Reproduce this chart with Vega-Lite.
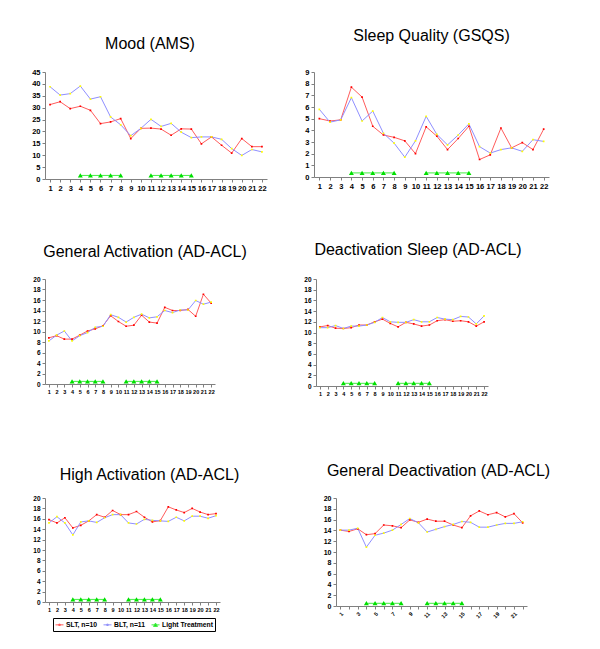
{
  "$schema": "https://vega.github.io/schema/vega-lite/v6.json",
  "padding": {"left": 31, "top": 28, "right": 0, "bottom": 0},
  "background": "white",
  "datasets": {
    "d": [
      {"p":"Mood","d":1,"s":"SLT, n=10","v":31.3},{"p":"Mood","d":2,"s":"SLT, n=10","v":32.5},{"p":"Mood","d":3,"s":"SLT, n=10","v":29.6},{"p":"Mood","d":4,"s":"SLT, n=10","v":30.6},{"p":"Mood","d":5,"s":"SLT, n=10","v":28.9},{"p":"Mood","d":6,"s":"SLT, n=10","v":23.3},{"p":"Mood","d":7,"s":"SLT, n=10","v":24.0},{"p":"Mood","d":8,"s":"SLT, n=10","v":25.4},{"p":"Mood","d":9,"s":"SLT, n=10","v":17.0},{"p":"Mood","d":10,"s":"SLT, n=10","v":21.3},{"p":"Mood","d":11,"s":"SLT, n=10","v":21.4},{"p":"Mood","d":12,"s":"SLT, n=10","v":21.0},{"p":"Mood","d":13,"s":"SLT, n=10","v":18.4},{"p":"Mood","d":14,"s":"SLT, n=10","v":21.1},{"p":"Mood","d":15,"s":"SLT, n=10","v":21.0},{"p":"Mood","d":16,"s":"SLT, n=10","v":14.8},{"p":"Mood","d":17,"s":"SLT, n=10","v":17.7},{"p":"Mood","d":18,"s":"SLT, n=10","v":14.2},{"p":"Mood","d":19,"s":"SLT, n=10","v":10.9},{"p":"Mood","d":20,"s":"SLT, n=10","v":17.0},{"p":"Mood","d":21,"s":"SLT, n=10","v":13.6},{"p":"Mood","d":22,"s":"SLT, n=10","v":13.6},
      {"p":"Mood","d":1,"s":"BLT, n=11","v":38.8},{"p":"Mood","d":2,"s":"BLT, n=11","v":35.3},{"p":"Mood","d":3,"s":"BLT, n=11","v":35.9},{"p":"Mood","d":4,"s":"BLT, n=11","v":39.1},{"p":"Mood","d":5,"s":"BLT, n=11","v":33.6},{"p":"Mood","d":6,"s":"BLT, n=11","v":34.6},{"p":"Mood","d":7,"s":"BLT, n=11","v":26.1},{"p":"Mood","d":8,"s":"BLT, n=11","v":22.8},{"p":"Mood","d":9,"s":"BLT, n=11","v":18.2},{"p":"Mood","d":10,"s":"BLT, n=11","v":21.3},{"p":"Mood","d":11,"s":"BLT, n=11","v":25.1},{"p":"Mood","d":12,"s":"BLT, n=11","v":22.1},{"p":"Mood","d":13,"s":"BLT, n=11","v":23.4},{"p":"Mood","d":14,"s":"BLT, n=11","v":19.7},{"p":"Mood","d":15,"s":"BLT, n=11","v":17.4},{"p":"Mood","d":16,"s":"BLT, n=11","v":17.7},{"p":"Mood","d":17,"s":"BLT, n=11","v":17.7},{"p":"Mood","d":18,"s":"BLT, n=11","v":16.7},{"p":"Mood","d":19,"s":"BLT, n=11","v":12.8},{"p":"Mood","d":20,"s":"BLT, n=11","v":9.9},{"p":"Mood","d":21,"s":"BLT, n=11","v":12.4},{"p":"Mood","d":22,"s":"BLT, n=11","v":11.4},
      {"p":"Mood","d":4,"s":"Light Treatment","v":1.5,"g":1},{"p":"Mood","d":5,"s":"Light Treatment","v":1.5,"g":1},{"p":"Mood","d":6,"s":"Light Treatment","v":1.5,"g":1},{"p":"Mood","d":7,"s":"Light Treatment","v":1.5,"g":1},{"p":"Mood","d":8,"s":"Light Treatment","v":1.5,"g":1},{"p":"Mood","d":11,"s":"Light Treatment","v":1.5,"g":2},{"p":"Mood","d":12,"s":"Light Treatment","v":1.5,"g":2},{"p":"Mood","d":13,"s":"Light Treatment","v":1.5,"g":2},{"p":"Mood","d":14,"s":"Light Treatment","v":1.5,"g":2},{"p":"Mood","d":15,"s":"Light Treatment","v":1.5,"g":2},

      {"p":"Sleep","d":1,"s":"SLT, n=10","v":5.0},{"p":"Sleep","d":2,"s":"SLT, n=10","v":4.8},{"p":"Sleep","d":3,"s":"SLT, n=10","v":4.9},{"p":"Sleep","d":4,"s":"SLT, n=10","v":7.7},{"p":"Sleep","d":5,"s":"SLT, n=10","v":6.85},{"p":"Sleep","d":6,"s":"SLT, n=10","v":4.35},{"p":"Sleep","d":7,"s":"SLT, n=10","v":3.6},{"p":"Sleep","d":8,"s":"SLT, n=10","v":3.4},{"p":"Sleep","d":9,"s":"SLT, n=10","v":3.1},{"p":"Sleep","d":10,"s":"SLT, n=10","v":2.0},{"p":"Sleep","d":11,"s":"SLT, n=10","v":4.3},{"p":"Sleep","d":12,"s":"SLT, n=10","v":3.5},{"p":"Sleep","d":13,"s":"SLT, n=10","v":2.35},{"p":"Sleep","d":14,"s":"SLT, n=10","v":3.3},{"p":"Sleep","d":15,"s":"SLT, n=10","v":4.35},{"p":"Sleep","d":16,"s":"SLT, n=10","v":1.5},{"p":"Sleep","d":17,"s":"SLT, n=10","v":1.9},{"p":"Sleep","d":18,"s":"SLT, n=10","v":4.2},{"p":"Sleep","d":19,"s":"SLT, n=10","v":2.5},{"p":"Sleep","d":20,"s":"SLT, n=10","v":2.95},{"p":"Sleep","d":21,"s":"SLT, n=10","v":2.35},{"p":"Sleep","d":22,"s":"SLT, n=10","v":4.1},
      {"p":"Sleep","d":1,"s":"BLT, n=11","v":5.8},{"p":"Sleep","d":2,"s":"BLT, n=11","v":4.7},{"p":"Sleep","d":3,"s":"BLT, n=11","v":4.9},{"p":"Sleep","d":4,"s":"BLT, n=11","v":6.8},{"p":"Sleep","d":5,"s":"BLT, n=11","v":4.8},{"p":"Sleep","d":6,"s":"BLT, n=11","v":5.65},{"p":"Sleep","d":7,"s":"BLT, n=11","v":3.75},{"p":"Sleep","d":8,"s":"BLT, n=11","v":2.9},{"p":"Sleep","d":9,"s":"BLT, n=11","v":1.7},{"p":"Sleep","d":10,"s":"BLT, n=11","v":3.1},{"p":"Sleep","d":11,"s":"BLT, n=11","v":5.2},{"p":"Sleep","d":12,"s":"BLT, n=11","v":3.65},{"p":"Sleep","d":13,"s":"BLT, n=11","v":2.75},{"p":"Sleep","d":14,"s":"BLT, n=11","v":3.6},{"p":"Sleep","d":15,"s":"BLT, n=11","v":4.55},{"p":"Sleep","d":16,"s":"BLT, n=11","v":2.6},{"p":"Sleep","d":17,"s":"BLT, n=11","v":2.05},{"p":"Sleep","d":18,"s":"BLT, n=11","v":2.35},{"p":"Sleep","d":19,"s":"BLT, n=11","v":2.5},{"p":"Sleep","d":20,"s":"BLT, n=11","v":2.2},{"p":"Sleep","d":21,"s":"BLT, n=11","v":3.2},{"p":"Sleep","d":22,"s":"BLT, n=11","v":3.05},
      {"p":"Sleep","d":4,"s":"Light Treatment","v":0.35,"g":1},{"p":"Sleep","d":5,"s":"Light Treatment","v":0.35,"g":1},{"p":"Sleep","d":6,"s":"Light Treatment","v":0.35,"g":1},{"p":"Sleep","d":7,"s":"Light Treatment","v":0.35,"g":1},{"p":"Sleep","d":8,"s":"Light Treatment","v":0.35,"g":1},{"p":"Sleep","d":11,"s":"Light Treatment","v":0.35,"g":2},{"p":"Sleep","d":12,"s":"Light Treatment","v":0.35,"g":2},{"p":"Sleep","d":13,"s":"Light Treatment","v":0.35,"g":2},{"p":"Sleep","d":14,"s":"Light Treatment","v":0.35,"g":2},{"p":"Sleep","d":15,"s":"Light Treatment","v":0.35,"g":2},

      {"p":"GA","d":1,"s":"SLT, n=10","v":8.8},{"p":"GA","d":2,"s":"SLT, n=10","v":9.2},{"p":"GA","d":3,"s":"SLT, n=10","v":8.55},{"p":"GA","d":4,"s":"SLT, n=10","v":8.55},{"p":"GA","d":5,"s":"SLT, n=10","v":9.3},{"p":"GA","d":6,"s":"SLT, n=10","v":10.1},{"p":"GA","d":7,"s":"SLT, n=10","v":10.5},{"p":"GA","d":8,"s":"SLT, n=10","v":11.1},{"p":"GA","d":9,"s":"SLT, n=10","v":13.0},{"p":"GA","d":10,"s":"SLT, n=10","v":11.9},{"p":"GA","d":11,"s":"SLT, n=10","v":11.0},{"p":"GA","d":12,"s":"SLT, n=10","v":11.2},{"p":"GA","d":13,"s":"SLT, n=10","v":13.1},{"p":"GA","d":14,"s":"SLT, n=10","v":11.8},{"p":"GA","d":15,"s":"SLT, n=10","v":11.6},{"p":"GA","d":16,"s":"SLT, n=10","v":14.6},{"p":"GA","d":17,"s":"SLT, n=10","v":14.0},{"p":"GA","d":18,"s":"SLT, n=10","v":14.0},{"p":"GA","d":19,"s":"SLT, n=10","v":14.2},{"p":"GA","d":20,"s":"SLT, n=10","v":12.9},{"p":"GA","d":21,"s":"SLT, n=10","v":17.1},{"p":"GA","d":22,"s":"SLT, n=10","v":15.4},
      {"p":"GA","d":1,"s":"BLT, n=11","v":8.2},{"p":"GA","d":2,"s":"BLT, n=11","v":9.3},{"p":"GA","d":3,"s":"BLT, n=11","v":10.1},{"p":"GA","d":4,"s":"BLT, n=11","v":8.2},{"p":"GA","d":5,"s":"BLT, n=11","v":9.2},{"p":"GA","d":6,"s":"BLT, n=11","v":9.8},{"p":"GA","d":7,"s":"BLT, n=11","v":10.8},{"p":"GA","d":8,"s":"BLT, n=11","v":11.0},{"p":"GA","d":9,"s":"BLT, n=11","v":13.2},{"p":"GA","d":10,"s":"BLT, n=11","v":12.7},{"p":"GA","d":11,"s":"BLT, n=11","v":11.8},{"p":"GA","d":12,"s":"BLT, n=11","v":12.7},{"p":"GA","d":13,"s":"BLT, n=11","v":13.3},{"p":"GA","d":14,"s":"BLT, n=11","v":12.6},{"p":"GA","d":15,"s":"BLT, n=11","v":12.8},{"p":"GA","d":16,"s":"BLT, n=11","v":14.0},{"p":"GA","d":17,"s":"BLT, n=11","v":13.6},{"p":"GA","d":18,"s":"BLT, n=11","v":14.1},{"p":"GA","d":19,"s":"BLT, n=11","v":14.1},{"p":"GA","d":20,"s":"BLT, n=11","v":15.9},{"p":"GA","d":21,"s":"BLT, n=11","v":15.2},{"p":"GA","d":22,"s":"BLT, n=11","v":15.6},
      {"p":"GA","d":4,"s":"Light Treatment","v":0.5,"g":1},{"p":"GA","d":5,"s":"Light Treatment","v":0.5,"g":1},{"p":"GA","d":6,"s":"Light Treatment","v":0.5,"g":1},{"p":"GA","d":7,"s":"Light Treatment","v":0.5,"g":1},{"p":"GA","d":8,"s":"Light Treatment","v":0.5,"g":1},{"p":"GA","d":11,"s":"Light Treatment","v":0.5,"g":2},{"p":"GA","d":12,"s":"Light Treatment","v":0.5,"g":2},{"p":"GA","d":13,"s":"Light Treatment","v":0.5,"g":2},{"p":"GA","d":14,"s":"Light Treatment","v":0.5,"g":2},{"p":"GA","d":15,"s":"Light Treatment","v":0.5,"g":2},

      {"p":"DS","d":1,"s":"SLT, n=10","v":11.05},{"p":"DS","d":2,"s":"SLT, n=10","v":11.3},{"p":"DS","d":3,"s":"SLT, n=10","v":10.8},{"p":"DS","d":4,"s":"SLT, n=10","v":10.75},{"p":"DS","d":5,"s":"SLT, n=10","v":10.9},{"p":"DS","d":6,"s":"SLT, n=10","v":11.4},{"p":"DS","d":7,"s":"SLT, n=10","v":11.4},{"p":"DS","d":8,"s":"SLT, n=10","v":12.0},{"p":"DS","d":9,"s":"SLT, n=10","v":12.5},{"p":"DS","d":10,"s":"SLT, n=10","v":11.7},{"p":"DS","d":11,"s":"SLT, n=10","v":11.05},{"p":"DS","d":12,"s":"SLT, n=10","v":11.9},{"p":"DS","d":13,"s":"SLT, n=10","v":11.6},{"p":"DS","d":14,"s":"SLT, n=10","v":11.2},{"p":"DS","d":15,"s":"SLT, n=10","v":11.4},{"p":"DS","d":16,"s":"SLT, n=10","v":12.2},{"p":"DS","d":17,"s":"SLT, n=10","v":12.4},{"p":"DS","d":18,"s":"SLT, n=10","v":12.1},{"p":"DS","d":19,"s":"SLT, n=10","v":12.2},{"p":"DS","d":20,"s":"SLT, n=10","v":12.0},{"p":"DS","d":21,"s":"SLT, n=10","v":11.2},{"p":"DS","d":22,"s":"SLT, n=10","v":12.0},
      {"p":"DS","d":1,"s":"BLT, n=11","v":10.9},{"p":"DS","d":2,"s":"BLT, n=11","v":10.9},{"p":"DS","d":3,"s":"BLT, n=11","v":11.3},{"p":"DS","d":4,"s":"BLT, n=11","v":10.75},{"p":"DS","d":5,"s":"BLT, n=11","v":11.2},{"p":"DS","d":6,"s":"BLT, n=11","v":11.2},{"p":"DS","d":7,"s":"BLT, n=11","v":11.4},{"p":"DS","d":8,"s":"BLT, n=11","v":11.9},{"p":"DS","d":9,"s":"BLT, n=11","v":12.8},{"p":"DS","d":10,"s":"BLT, n=11","v":12.0},{"p":"DS","d":11,"s":"BLT, n=11","v":11.9},{"p":"DS","d":12,"s":"BLT, n=11","v":11.9},{"p":"DS","d":13,"s":"BLT, n=11","v":12.4},{"p":"DS","d":14,"s":"BLT, n=11","v":12.0},{"p":"DS","d":15,"s":"BLT, n=11","v":12.0},{"p":"DS","d":16,"s":"BLT, n=11","v":12.8},{"p":"DS","d":17,"s":"BLT, n=11","v":12.5},{"p":"DS","d":18,"s":"BLT, n=11","v":12.4},{"p":"DS","d":19,"s":"BLT, n=11","v":13.0},{"p":"DS","d":20,"s":"BLT, n=11","v":12.9},{"p":"DS","d":21,"s":"BLT, n=11","v":11.6},{"p":"DS","d":22,"s":"BLT, n=11","v":13.1},
      {"p":"DS","d":4,"s":"Light Treatment","v":0.5,"g":1},{"p":"DS","d":5,"s":"Light Treatment","v":0.5,"g":1},{"p":"DS","d":6,"s":"Light Treatment","v":0.5,"g":1},{"p":"DS","d":7,"s":"Light Treatment","v":0.5,"g":1},{"p":"DS","d":8,"s":"Light Treatment","v":0.5,"g":1},{"p":"DS","d":11,"s":"Light Treatment","v":0.5,"g":2},{"p":"DS","d":12,"s":"Light Treatment","v":0.5,"g":2},{"p":"DS","d":13,"s":"Light Treatment","v":0.5,"g":2},{"p":"DS","d":14,"s":"Light Treatment","v":0.5,"g":2},{"p":"DS","d":15,"s":"Light Treatment","v":0.5,"g":2},

      {"p":"HA","d":1,"s":"SLT, n=10","v":15.85},{"p":"HA","d":2,"s":"SLT, n=10","v":15.2},{"p":"HA","d":3,"s":"SLT, n=10","v":16.2},{"p":"HA","d":4,"s":"SLT, n=10","v":14.25},{"p":"HA","d":5,"s":"SLT, n=10","v":14.75},{"p":"HA","d":6,"s":"SLT, n=10","v":15.6},{"p":"HA","d":7,"s":"SLT, n=10","v":16.8},{"p":"HA","d":8,"s":"SLT, n=10","v":16.3},{"p":"HA","d":9,"s":"SLT, n=10","v":17.6},{"p":"HA","d":10,"s":"SLT, n=10","v":16.8},{"p":"HA","d":11,"s":"SLT, n=10","v":16.8},{"p":"HA","d":12,"s":"SLT, n=10","v":17.4},{"p":"HA","d":13,"s":"SLT, n=10","v":16.3},{"p":"HA","d":14,"s":"SLT, n=10","v":15.4},{"p":"HA","d":15,"s":"SLT, n=10","v":15.65},{"p":"HA","d":16,"s":"SLT, n=10","v":18.3},{"p":"HA","d":17,"s":"SLT, n=10","v":17.7},{"p":"HA","d":18,"s":"SLT, n=10","v":17.2},{"p":"HA","d":19,"s":"SLT, n=10","v":18.0},{"p":"HA","d":20,"s":"SLT, n=10","v":17.3},{"p":"HA","d":21,"s":"SLT, n=10","v":16.8},{"p":"HA","d":22,"s":"SLT, n=10","v":17.0},
      {"p":"HA","d":1,"s":"BLT, n=11","v":15.2},{"p":"HA","d":2,"s":"BLT, n=11","v":16.4},{"p":"HA","d":3,"s":"BLT, n=11","v":15.2},{"p":"HA","d":4,"s":"BLT, n=11","v":12.9},{"p":"HA","d":5,"s":"BLT, n=11","v":15.4},{"p":"HA","d":6,"s":"BLT, n=11","v":15.6},{"p":"HA","d":7,"s":"BLT, n=11","v":15.3},{"p":"HA","d":8,"s":"BLT, n=11","v":16.2},{"p":"HA","d":9,"s":"BLT, n=11","v":16.8},{"p":"HA","d":10,"s":"BLT, n=11","v":16.8},{"p":"HA","d":11,"s":"BLT, n=11","v":15.2},{"p":"HA","d":12,"s":"BLT, n=11","v":15.0},{"p":"HA","d":13,"s":"BLT, n=11","v":15.9},{"p":"HA","d":14,"s":"BLT, n=11","v":15.7},{"p":"HA","d":15,"s":"BLT, n=11","v":15.6},{"p":"HA","d":16,"s":"BLT, n=11","v":15.5},{"p":"HA","d":17,"s":"BLT, n=11","v":16.3},{"p":"HA","d":18,"s":"BLT, n=11","v":15.6},{"p":"HA","d":19,"s":"BLT, n=11","v":16.5},{"p":"HA","d":20,"s":"BLT, n=11","v":16.5},{"p":"HA","d":21,"s":"BLT, n=11","v":16.1},{"p":"HA","d":22,"s":"BLT, n=11","v":16.6},
      {"p":"HA","d":4,"s":"Light Treatment","v":0.5,"g":1},{"p":"HA","d":5,"s":"Light Treatment","v":0.5,"g":1},{"p":"HA","d":6,"s":"Light Treatment","v":0.5,"g":1},{"p":"HA","d":7,"s":"Light Treatment","v":0.5,"g":1},{"p":"HA","d":8,"s":"Light Treatment","v":0.5,"g":1},{"p":"HA","d":11,"s":"Light Treatment","v":0.5,"g":2},{"p":"HA","d":12,"s":"Light Treatment","v":0.5,"g":2},{"p":"HA","d":13,"s":"Light Treatment","v":0.5,"g":2},{"p":"HA","d":14,"s":"Light Treatment","v":0.5,"g":2},{"p":"HA","d":15,"s":"Light Treatment","v":0.5,"g":2},

      {"p":"GD","d":1,"s":"SLT, n=10","v":14.05},{"p":"GD","d":2,"s":"SLT, n=10","v":13.8},{"p":"GD","d":3,"s":"SLT, n=10","v":14.3},{"p":"GD","d":4,"s":"SLT, n=10","v":13.2},{"p":"GD","d":5,"s":"SLT, n=10","v":13.4},{"p":"GD","d":6,"s":"SLT, n=10","v":15.0},{"p":"GD","d":7,"s":"SLT, n=10","v":14.85},{"p":"GD","d":8,"s":"SLT, n=10","v":14.5},{"p":"GD","d":9,"s":"SLT, n=10","v":15.95},{"p":"GD","d":10,"s":"SLT, n=10","v":15.5},{"p":"GD","d":11,"s":"SLT, n=10","v":16.1},{"p":"GD","d":12,"s":"SLT, n=10","v":15.7},{"p":"GD","d":13,"s":"SLT, n=10","v":15.7},{"p":"GD","d":14,"s":"SLT, n=10","v":15.0},{"p":"GD","d":15,"s":"SLT, n=10","v":14.5},{"p":"GD","d":16,"s":"SLT, n=10","v":16.7},{"p":"GD","d":17,"s":"SLT, n=10","v":17.6},{"p":"GD","d":18,"s":"SLT, n=10","v":16.9},{"p":"GD","d":19,"s":"SLT, n=10","v":17.3},{"p":"GD","d":20,"s":"SLT, n=10","v":16.5},{"p":"GD","d":21,"s":"SLT, n=10","v":17.1},{"p":"GD","d":22,"s":"SLT, n=10","v":15.4},
      {"p":"GD","d":1,"s":"BLT, n=11","v":14.05},{"p":"GD","d":2,"s":"BLT, n=11","v":14.05},{"p":"GD","d":3,"s":"BLT, n=11","v":14.4},{"p":"GD","d":4,"s":"BLT, n=11","v":10.9},{"p":"GD","d":5,"s":"BLT, n=11","v":13.1},{"p":"GD","d":6,"s":"BLT, n=11","v":13.5},{"p":"GD","d":7,"s":"BLT, n=11","v":14.05},{"p":"GD","d":8,"s":"BLT, n=11","v":15.1},{"p":"GD","d":9,"s":"BLT, n=11","v":16.2},{"p":"GD","d":10,"s":"BLT, n=11","v":15.4},{"p":"GD","d":11,"s":"BLT, n=11","v":13.7},{"p":"GD","d":12,"s":"BLT, n=11","v":14.2},{"p":"GD","d":13,"s":"BLT, n=11","v":14.7},{"p":"GD","d":14,"s":"BLT, n=11","v":15.1},{"p":"GD","d":15,"s":"BLT, n=11","v":15.65},{"p":"GD","d":16,"s":"BLT, n=11","v":15.5},{"p":"GD","d":17,"s":"BLT, n=11","v":14.6},{"p":"GD","d":18,"s":"BLT, n=11","v":14.6},{"p":"GD","d":19,"s":"BLT, n=11","v":15.0},{"p":"GD","d":20,"s":"BLT, n=11","v":15.3},{"p":"GD","d":21,"s":"BLT, n=11","v":15.3},{"p":"GD","d":22,"s":"BLT, n=11","v":15.6},
      {"p":"GD","d":4,"s":"Light Treatment","v":0.5,"g":1},{"p":"GD","d":5,"s":"Light Treatment","v":0.5,"g":1},{"p":"GD","d":6,"s":"Light Treatment","v":0.5,"g":1},{"p":"GD","d":7,"s":"Light Treatment","v":0.5,"g":1},{"p":"GD","d":8,"s":"Light Treatment","v":0.5,"g":1},{"p":"GD","d":11,"s":"Light Treatment","v":0.5,"g":2},{"p":"GD","d":12,"s":"Light Treatment","v":0.5,"g":2},{"p":"GD","d":13,"s":"Light Treatment","v":0.5,"g":2},{"p":"GD","d":14,"s":"Light Treatment","v":0.5,"g":2},{"p":"GD","d":15,"s":"Light Treatment","v":0.5,"g":2}
    ]
  },
  "data": {"name": "d"},
  "spacing": 50,
  "vconcat": [
    {
      "spacing": 37,
      "hconcat": [
        {
          "title": {"text": "Mood (AMS)", "offset": 16, "dx": -6},
          "width": 222, "height": 107,
          "transform": [{"filter": "datum.p == 'Mood'"}],
          "encoding": {
            "x": {"field": "d", "type": "ordinal", "scale": {"type": "point", "padding": 0.5}, "axis": {"title": null, "labelAngle": 0, "labelFontSize": 7.5}},
            "y": {"field": "v", "type": "quantitative", "scale": {"domain": [0, 45], "nice": false}, "axis": {"title": null, "values": [0,5,10,15,20,25,30,35,40,45], "labelFontSize": 7.5}}
          },
          "layer": [
            {"mark": {"type": "line"}, "encoding": {
              "color": {"field": "s", "type": "nominal", "scale": {"domain": ["SLT, n=10","BLT, n=11","Light Treatment"], "range": ["#ff5c5c","#8f8fff","#44ee44"]}, "legend": {"orient": "none", "legendX": 8, "legendY": 546, "direction": "horizontal", "title": null}},
              "strokeWidth": {"field": "s", "type": "nominal", "scale": {"domain": ["SLT, n=10","BLT, n=11","Light Treatment"], "range": [1,1,2.5]}, "legend": null},
              "detail": {"field": "g"}}},
            {"mark": {"type": "point", "filled": true, "size": 100, "opacity": 1}, "encoding": {
              "fill": {"field": "s", "type": "nominal", "scale": {"domain": ["SLT, n=10","BLT, n=11","Light Treatment"], "range": ["#ff0000","#ffff00","#00e000"]}, "legend": {"orient": "none", "legendX": 8, "legendY": 546, "direction": "horizontal", "title": null}},
              "shape": {"field": "s", "type": "nominal", "scale": {"domain": ["SLT, n=10","BLT, n=11","Light Treatment"], "range": ["M-1,0H1M-0.17,-0.17H0.17V0.17H-0.17Z","M-1,0H1M-0.17,-0.17H0.17V0.17H-0.17Z","M-1,0H1M0,-0.45L0.5,0.4H-0.5Z"]}, "legend": {"orient": "none", "legendX": 8, "legendY": 546, "direction": "horizontal", "title": null}}}}
          ]
        },
        {
          "title": {"text": "Sleep Quality (GSQS)", "offset": 24, "dx": 0},
          "width": 235, "height": 105,
          "transform": [{"filter": "datum.p == 'Sleep'"}],
          "encoding": {
            "x": {"field": "d", "type": "ordinal", "scale": {"type": "point", "padding": 0.5}, "axis": {"title": null, "labelAngle": 0, "labelFontSize": 7.5}},
            "y": {"field": "v", "type": "quantitative", "scale": {"domain": [0, 9], "nice": false}, "axis": {"title": null, "values": [0,1,2,3,4,5,6,7,8,9], "labelFontSize": 7.5}}
          },
          "layer": [
            {"mark": {"type": "line"}, "encoding": {
              "color": {"field": "s", "type": "nominal", "scale": {"domain": ["SLT, n=10","BLT, n=11","Light Treatment"], "range": ["#ff5c5c","#8f8fff","#44ee44"]}, "legend": {"orient": "none", "legendX": 8, "legendY": 546, "direction": "horizontal", "title": null}},
              "strokeWidth": {"field": "s", "type": "nominal", "scale": {"domain": ["SLT, n=10","BLT, n=11","Light Treatment"], "range": [1,1,2.5]}, "legend": null},
              "detail": {"field": "g"}}},
            {"mark": {"type": "point", "filled": true, "size": 100, "opacity": 1}, "encoding": {
              "fill": {"field": "s", "type": "nominal", "scale": {"domain": ["SLT, n=10","BLT, n=11","Light Treatment"], "range": ["#ff0000","#ffff00","#00e000"]}, "legend": {"orient": "none", "legendX": 8, "legendY": 546, "direction": "horizontal", "title": null}},
              "shape": {"field": "s", "type": "nominal", "scale": {"domain": ["SLT, n=10","BLT, n=11","Light Treatment"], "range": ["M-1,0H1M-0.17,-0.17H0.17V0.17H-0.17Z","M-1,0H1M-0.17,-0.17H0.17V0.17H-0.17Z","M-1,0H1M0,-0.45L0.5,0.4H-0.5Z"]}, "legend": {"orient": "none", "legendX": 8, "legendY": 546, "direction": "horizontal", "title": null}}}}
          ]
        }
      ]
    },
    {
      "spacing": 66,
      "vconcat": [
        {
          "spacing": 55,
          "hconcat": [
            {
              "title": {"text": "General Activation (AD-ACL)", "offset": 16, "dx": 15},
              "width": 170, "height": 105,
              "transform": [{"filter": "datum.p == 'GA'"}],
              "encoding": {
                "x": {"field": "d", "type": "ordinal", "scale": {"type": "point", "padding": 0.5}, "axis": {"title": null, "labelAngle": 0, "labelFontSize": 5.5}},
                "y": {"field": "v", "type": "quantitative", "scale": {"domain": [0, 20], "nice": false}, "axis": {"title": null, "values": [0,2,4,6,8,10,12,14,16,18,20], "labelFontSize": 6.5}}
              },
              "layer": [
                {"mark": {"type": "line"}, "encoding": {
                  "color": {"field": "s", "type": "nominal", "scale": {"domain": ["SLT, n=10","BLT, n=11","Light Treatment"], "range": ["#ff5c5c","#8f8fff","#44ee44"]}, "legend": {"orient": "none", "legendX": 8, "legendY": 546, "direction": "horizontal", "title": null}},
                  "strokeWidth": {"field": "s", "type": "nominal", "scale": {"domain": ["SLT, n=10","BLT, n=11","Light Treatment"], "range": [1,1,2.5]}, "legend": null},
                  "detail": {"field": "g"}}},
                {"mark": {"type": "point", "filled": true, "size": 100, "opacity": 1}, "encoding": {
                  "fill": {"field": "s", "type": "nominal", "scale": {"domain": ["SLT, n=10","BLT, n=11","Light Treatment"], "range": ["#ff0000","#ffff00","#00e000"]}, "legend": {"orient": "none", "legendX": 8, "legendY": 546, "direction": "horizontal", "title": null}},
                  "shape": {"field": "s", "type": "nominal", "scale": {"domain": ["SLT, n=10","BLT, n=11","Light Treatment"], "range": ["M-1,0H1M-0.17,-0.17H0.17V0.17H-0.17Z","M-1,0H1M-0.17,-0.17H0.17V0.17H-0.17Z","M-1,0H1M0,-0.45L0.5,0.4H-0.5Z"]}, "legend": {"orient": "none", "legendX": 8, "legendY": 546, "direction": "horizontal", "title": null}}}}
              ]
            },
            {
              "title": {"text": "Deactivation Sleep (AD-ACL)", "offset": 18, "dx": 16},
              "width": 172, "height": 107,
              "transform": [{"filter": "datum.p == 'DS'"}],
              "encoding": {
                "x": {"field": "d", "type": "ordinal", "scale": {"type": "point", "padding": 0.5}, "axis": {"title": null, "labelAngle": 0, "labelFontSize": 5.5}},
                "y": {"field": "v", "type": "quantitative", "scale": {"domain": [0, 20], "nice": false}, "axis": {"title": null, "values": [0,2,4,6,8,10,12,14,16,18,20], "labelFontSize": 6.5}}
              },
              "layer": [
                {"mark": {"type": "line"}, "encoding": {
                  "color": {"field": "s", "type": "nominal", "scale": {"domain": ["SLT, n=10","BLT, n=11","Light Treatment"], "range": ["#ff5c5c","#8f8fff","#44ee44"]}, "legend": {"orient": "none", "legendX": 8, "legendY": 546, "direction": "horizontal", "title": null}},
                  "strokeWidth": {"field": "s", "type": "nominal", "scale": {"domain": ["SLT, n=10","BLT, n=11","Light Treatment"], "range": [1,1,2.5]}, "legend": null},
                  "detail": {"field": "g"}}},
                {"mark": {"type": "point", "filled": true, "size": 100, "opacity": 1}, "encoding": {
                  "fill": {"field": "s", "type": "nominal", "scale": {"domain": ["SLT, n=10","BLT, n=11","Light Treatment"], "range": ["#ff0000","#ffff00","#00e000"]}, "legend": {"orient": "none", "legendX": 8, "legendY": 546, "direction": "horizontal", "title": null}},
                  "shape": {"field": "s", "type": "nominal", "scale": {"domain": ["SLT, n=10","BLT, n=11","Light Treatment"], "range": ["M-1,0H1M-0.17,-0.17H0.17V0.17H-0.17Z","M-1,0H1M-0.17,-0.17H0.17V0.17H-0.17Z","M-1,0H1M0,-0.45L0.5,0.4H-0.5Z"]}, "legend": {"orient": "none", "legendX": 8, "legendY": 546, "direction": "horizontal", "title": null}}}}
              ]
            }
          ]
        },
        {
          "spacing": 83,
          "hconcat": [
            {
              "title": {"text": "High Activation (AD-ACL)", "offset": 12, "dx": 17},
              "width": 175, "height": 104,
              "transform": [{"filter": "datum.p == 'HA'"}],
              "encoding": {
                "x": {"field": "d", "type": "ordinal", "scale": {"type": "point", "padding": 0.5}, "axis": {"title": null, "labelAngle": 0, "labelFontSize": 5.5}},
                "y": {"field": "v", "type": "quantitative", "scale": {"domain": [0, 20], "nice": false}, "axis": {"title": null, "values": [0,2,4,6,8,10,12,14,16,18,20], "labelFontSize": 6.5}}
              },
              "layer": [
                {"mark": {"type": "line"}, "encoding": {
                  "color": {"field": "s", "type": "nominal", "scale": {"domain": ["SLT, n=10","BLT, n=11","Light Treatment"], "range": ["#ff5c5c","#8f8fff","#44ee44"]}, "legend": {"orient": "none", "legendX": 8, "legendY": 546, "direction": "horizontal", "title": null}},
                  "strokeWidth": {"field": "s", "type": "nominal", "scale": {"domain": ["SLT, n=10","BLT, n=11","Light Treatment"], "range": [1,1,2.5]}, "legend": null},
                  "detail": {"field": "g"}}},
                {"mark": {"type": "point", "filled": true, "size": 100, "opacity": 1}, "encoding": {
                  "fill": {"field": "s", "type": "nominal", "scale": {"domain": ["SLT, n=10","BLT, n=11","Light Treatment"], "range": ["#ff0000","#ffff00","#00e000"]}, "legend": {"orient": "none", "legendX": 8, "legendY": 546, "direction": "horizontal", "title": null}},
                  "shape": {"field": "s", "type": "nominal", "scale": {"domain": ["SLT, n=10","BLT, n=11","Light Treatment"], "range": ["M-1,0H1M-0.17,-0.17H0.17V0.17H-0.17Z","M-1,0H1M-0.17,-0.17H0.17V0.17H-0.17Z","M-1,0H1M0,-0.45L0.5,0.4H-0.5Z"]}, "legend": {"orient": "none", "legendX": 8, "legendY": 546, "direction": "horizontal", "title": null}}}}
              ]
            },
            {
              "title": {"text": "General Deactivation (AD-ACL)", "offset": 15, "dx": 7},
              "width": 191, "height": 108,
              "transform": [{"filter": "datum.p == 'GD'"}],
              "encoding": {
                "x": {"field": "d", "type": "ordinal", "scale": {"type": "point", "padding": 0.5}, "axis": {"title": null, "labelAngle": -45, "labelFontSize": 5.5, "labelExpr": "datum.value % 2 == 1 ? datum.label : ''"}},
                "y": {"field": "v", "type": "quantitative", "scale": {"domain": [0, 20], "nice": false}, "axis": {"title": null, "values": [0,2,4,6,8,10,12,14,16,18,20], "labelFontSize": 7}}
              },
              "layer": [
                {"mark": {"type": "line"}, "encoding": {
                  "color": {"field": "s", "type": "nominal", "scale": {"domain": ["SLT, n=10","BLT, n=11","Light Treatment"], "range": ["#ff5c5c","#8f8fff","#44ee44"]}, "legend": {"orient": "none", "legendX": 8, "legendY": 546, "direction": "horizontal", "title": null}},
                  "strokeWidth": {"field": "s", "type": "nominal", "scale": {"domain": ["SLT, n=10","BLT, n=11","Light Treatment"], "range": [1,1,2.5]}, "legend": null},
                  "detail": {"field": "g"}}},
                {"mark": {"type": "point", "filled": true, "size": 100, "opacity": 1}, "encoding": {
                  "fill": {"field": "s", "type": "nominal", "scale": {"domain": ["SLT, n=10","BLT, n=11","Light Treatment"], "range": ["#ff0000","#ffff00","#00e000"]}, "legend": {"orient": "none", "legendX": 8, "legendY": 546, "direction": "horizontal", "title": null}},
                  "shape": {"field": "s", "type": "nominal", "scale": {"domain": ["SLT, n=10","BLT, n=11","Light Treatment"], "range": ["M-1,0H1M-0.17,-0.17H0.17V0.17H-0.17Z","M-1,0H1M-0.17,-0.17H0.17V0.17H-0.17Z","M-1,0H1M0,-0.45L0.5,0.4H-0.5Z"]}, "legend": {"orient": "none", "legendX": 8, "legendY": 546, "direction": "horizontal", "title": null}}}}
              ]
            }
          ]
        }
      ]
    }
  ],
  "config": {
    "font": "Liberation Sans",
    "view": {"stroke": null},
    "axis": {"grid": false, "domainColor": "#808080", "tickColor": "#808080", "labelColor": "#000000", "labelFontWeight": "bold", "labelFont": "Liberation Sans", "tickSize": 3, "labelPadding": 2, "domainWidth": 1},
    "title": {"fontSize": 16, "fontWeight": "normal", "font": "Liberation Sans", "color": "#000000", "frame": "group", "anchor": "middle"},
    "legend": {"strokeColor": "#000000", "padding": 2, "labelFontSize": 6.8, "labelFontWeight": "bold", "labelFont": "Liberation Sans", "labelColor": "#000000", "columnPadding": 3, "symbolSize": 64, "symbolStrokeWidth": 1, "labelOffset": 2}
  }
}
